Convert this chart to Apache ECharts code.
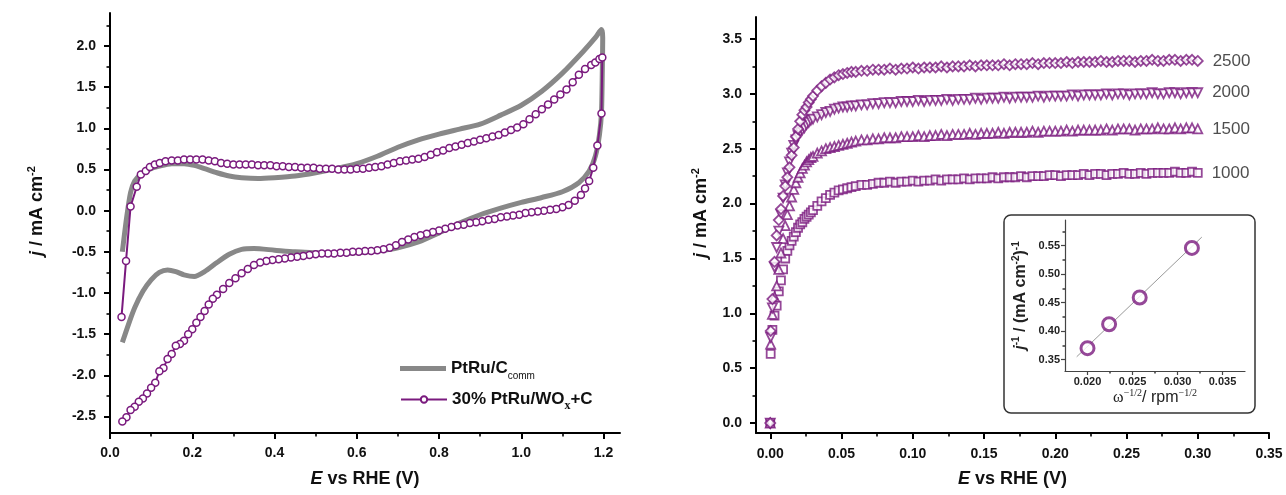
<!DOCTYPE html>
<html><head><meta charset="utf-8">
<script src="https://cdn.jsdelivr.net/npm/echarts@6/dist/echarts.min.js"></script>
<style>html,body{margin:0;padding:0;background:#fff}#c{width:1286px;height:495px}</style>
</head><body><div id="c"></div>
<script>
// ---------- Left panel: cyclic voltammograms ----------
const commName = 'PtRu/C_comm';
const woxName = '30% PtRu/WOx+C';
const cvCommE = [0.030,0.040,0.050,0.060,0.075,0.095,0.120,0.150,0.180,0.205,0.230,0.260,0.290,0.320,0.360,0.400,0.450,0.500,0.550,0.600,0.650,0.700,0.750,0.800,0.850,0.900,0.950,1.000,1.050,1.100,1.150,1.180,1.195,
  1.198,1.197,1.195,1.190,1.180,1.165,1.140,1.100,1.050,1.000,0.950,0.900,0.850,0.800,0.750,0.700,0.650,0.600,0.550,0.500,0.450,0.400,0.350,0.320,0.290,0.260,0.230,0.205,0.180,0.160,0.140,0.120,0.100,0.080,0.060,0.045,0.030];
const cvCommJ = [-0.50,-0.10,0.22,0.36,0.44,0.50,0.54,0.57,0.57,0.55,0.51,0.46,0.42,0.40,0.39,0.40,0.42,0.46,0.51,0.57,0.66,0.77,0.86,0.93,0.99,1.05,1.16,1.28,1.45,1.67,1.93,2.10,2.20,
  2.10,1.70,1.20,0.92,0.66,0.48,0.34,0.23,0.16,0.10,0.03,-0.05,-0.15,-0.27,-0.38,-0.45,-0.49,-0.51,-0.52,-0.51,-0.50,-0.48,-0.46,-0.47,-0.53,-0.63,-0.74,-0.80,-0.78,-0.74,-0.72,-0.75,-0.84,-0.98,-1.18,-1.38,-1.60];
const cvWoxE = [0.028,0.039,0.050,0.065,0.075,0.087,0.097,0.109,0.121,0.135,0.150,0.165,0.180,0.195,0.210,0.225,0.240,0.255,0.270,0.285,0.300,0.315,0.330,0.345,0.360,0.375,0.390,0.405,0.420,0.435,0.450,0.465,0.480,0.495,0.510,0.525,0.540,0.555,0.570,0.585,0.600,0.615,0.630,0.645,0.660,0.675,0.690,0.705,0.720,0.735,0.750,0.765,0.780,0.795,0.810,0.825,0.840,0.855,0.870,0.885,0.900,0.915,0.930,0.945,0.960,0.975,0.990,1.005,1.020,1.035,1.050,1.065,1.080,1.095,1.110,1.125,1.140,1.155,1.170,1.180,1.190,1.197,
  1.195,1.185,1.175,1.165,1.155,1.145,1.130,1.115,1.100,1.085,1.070,1.055,1.040,1.025,1.010,0.995,0.980,0.965,0.950,0.935,0.920,0.905,0.890,0.875,0.860,0.845,0.830,0.815,0.800,0.785,0.770,0.755,0.740,0.725,0.710,0.695,0.680,0.665,0.650,0.635,0.620,0.605,0.590,0.575,0.560,0.545,0.530,0.515,0.500,0.485,0.470,0.455,0.440,0.425,0.410,0.395,0.380,0.365,0.350,0.335,0.320,0.305,0.290,0.275,0.260,0.250,0.240,0.230,0.220,0.210,0.200,0.190,0.180,0.170,0.160,0.150,0.140,0.130,0.120,0.110,0.100,0.090,0.080,0.070,0.060,0.050,0.040,0.030];
const cvWoxJ = [-1.29,-0.61,0.05,0.29,0.44,0.48,0.53,0.56,0.58,0.60,0.61,0.61,0.62,0.62,0.62,0.62,0.61,0.60,0.58,0.57,0.56,0.56,0.56,0.56,0.55,0.55,0.55,0.54,0.54,0.53,0.53,0.52,0.52,0.52,0.51,0.51,0.51,0.50,0.50,0.50,0.51,0.51,0.52,0.53,0.54,0.56,0.58,0.60,0.61,0.62,0.63,0.65,0.68,0.71,0.73,0.76,0.78,0.80,0.82,0.84,0.86,0.88,0.90,0.92,0.95,0.98,1.01,1.05,1.11,1.17,1.23,1.29,1.35,1.41,1.47,1.56,1.65,1.72,1.77,1.80,1.84,1.86,
  1.18,0.79,0.52,0.36,0.27,0.19,0.12,0.07,0.04,0.02,0.01,0.00,-0.01,-0.02,-0.03,-0.05,-0.06,-0.07,-0.08,-0.10,-0.11,-0.13,-0.14,-0.15,-0.17,-0.18,-0.20,-0.22,-0.24,-0.26,-0.28,-0.30,-0.32,-0.35,-0.38,-0.42,-0.45,-0.47,-0.48,-0.49,-0.49,-0.50,-0.50,-0.51,-0.51,-0.52,-0.52,-0.52,-0.53,-0.54,-0.55,-0.56,-0.57,-0.58,-0.59,-0.60,-0.61,-0.63,-0.66,-0.71,-0.76,-0.82,-0.88,-0.95,-1.02,-1.07,-1.14,-1.22,-1.29,-1.36,-1.44,-1.50,-1.58,-1.62,-1.64,-1.74,-1.80,-1.91,-1.95,-2.09,-2.15,-2.22,-2.28,-2.32,-2.38,-2.42,-2.51,-2.56];

// ---------- Right panel: RDE polarization curves ----------
const lsvE = [0,0.0003,0.0015,0.003,0.0045,0.006,0.0075,0.009,0.0105,0.012,0.0135,0.015,0.0165,0.018,0.0195,0.021,0.0225,0.024,0.0255,0.027,0.0285,0.030,
  0.033,0.036,0.039,0.042,0.045,0.048,0.051,0.054,0.057,0.060,
  0.064,0.068,0.072,0.076,0.080,0.084,0.088,0.092,0.096,0.100,
  0.104,0.108,0.112,0.116,0.120,0.124,0.128,0.132,0.136,0.140,
  0.144,0.148,0.152,0.156,0.160,0.164,0.168,0.172,0.176,0.180,
  0.184,0.188,0.192,0.196,0.200,0.204,0.208,0.212,0.216,0.220,
  0.224,0.228,0.232,0.236,0.240,0.244,0.248,0.252,0.256,0.260,
  0.264,0.268,0.272,0.276,0.280,0.284,0.288,0.292,0.296,0.300];
const j1000 = [0,0.63,0.85,0.98,1.07,1.20,1.30,1.40,1.50,1.57,1.62,1.66,1.70,1.74,1.78,1.81,1.83,1.86,1.88,1.90,1.92,1.94,
  1.98,2.02,2.05,2.08,2.10,2.12,2.13,2.14,2.15,2.16,
  2.17,2.17,2.18,2.19,2.19,2.20,2.19,2.20,2.20,2.21,
  2.20,2.21,2.21,2.22,2.21,2.22,2.22,2.22,2.23,2.22,
  2.23,2.23,2.23,2.24,2.23,2.24,2.24,2.24,2.25,2.24,
  2.25,2.25,2.25,2.26,2.26,2.25,2.26,2.26,2.26,2.27,
  2.26,2.27,2.27,2.26,2.27,2.27,2.28,2.27,2.27,2.28,
  2.27,2.28,2.28,2.28,2.28,2.29,2.28,2.28,2.29,2.28];
const j1500 = [0,0.72,0.99,1.15,1.25,1.40,1.55,1.68,1.80,1.90,1.98,2.06,2.13,2.19,2.24,2.28,2.32,2.35,2.38,2.40,2.42,2.43,
  2.46,2.48,2.50,2.51,2.52,2.53,2.54,2.55,2.56,2.57,
  2.58,2.58,2.59,2.59,2.60,2.60,2.60,2.61,2.61,2.61,
  2.62,2.61,2.62,2.62,2.63,2.62,2.63,2.63,2.63,2.64,
  2.63,2.64,2.64,2.64,2.65,2.64,2.65,2.65,2.65,2.65,
  2.66,2.65,2.66,2.66,2.66,2.66,2.67,2.66,2.67,2.67,
  2.67,2.67,2.67,2.68,2.67,2.68,2.68,2.68,2.67,2.68,
  2.68,2.68,2.69,2.68,2.68,2.69,2.68,2.69,2.69,2.68];
const j2000 = [0,0.78,1.05,1.42,1.60,1.75,1.90,2.05,2.17,2.28,2.38,2.46,2.53,2.58,2.62,2.65,2.67,2.69,2.72,2.74,2.76,2.77,
  2.79,2.81,2.83,2.84,2.86,2.87,2.88,2.88,2.89,2.89,
  2.90,2.90,2.91,2.91,2.92,2.92,2.92,2.93,2.93,2.93,
  2.94,2.93,2.94,2.94,2.94,2.95,2.94,2.95,2.95,2.95,
  2.96,2.95,2.96,2.96,2.96,2.97,2.96,2.97,2.97,2.97,
  2.97,2.98,2.97,2.98,2.98,2.98,2.98,2.99,2.98,2.99,
  2.99,2.99,2.99,3.00,2.99,3.00,3.00,2.99,3.00,3.00,
  3.00,3.01,3.00,3.00,3.01,3.01,3.00,3.01,3.01,3.01];
const j2500 = [0,0.84,1.13,1.47,1.71,1.85,1.95,2.07,2.16,2.24,2.33,2.44,2.51,2.61,2.68,2.75,2.81,2.85,2.88,2.92,2.95,2.98,
  3.03,3.07,3.10,3.13,3.15,3.17,3.18,3.19,3.20,3.20,
  3.21,3.21,3.22,3.22,3.22,3.23,3.22,3.23,3.23,3.24,
  3.23,3.24,3.24,3.24,3.25,3.24,3.25,3.25,3.25,3.26,
  3.25,3.26,3.26,3.26,3.26,3.27,3.26,3.27,3.27,3.27,
  3.28,3.27,3.28,3.28,3.28,3.28,3.29,3.28,3.29,3.29,
  3.29,3.29,3.30,3.29,3.29,3.30,3.30,3.30,3.29,3.30,
  3.30,3.31,3.30,3.30,3.31,3.31,3.30,3.31,3.31,3.30];
const rpmLabels = ['1000','1500','2000','2500'];

// ---------- Inset: Koutecky-Levich ----------
const klX = [0.0200,0.0224,0.0258,0.0316];
const klY = [0.370,0.412,0.459,0.546];
const fitX = [0.0188,0.0327];
const fitY = [0.355,0.565];

// ---------- Tick values ----------
const leftXTicks = [0,0.2,0.4,0.6,0.8,1.0,1.2];
const leftXMinor = [0.1,0.3,0.5,0.7,0.9,1.1];
const leftYTicks = [-2.5,-2.0,-1.5,-1.0,-0.5,0,0.5,1.0,1.5,2.0];
const leftYMinor = [-2.25,-1.75,-1.25,-0.75,-0.25,0.25,0.75,1.25,1.75,2.25];
const rightXTicks = [0,0.05,0.10,0.15,0.20,0.25,0.30,0.35];
const rightXMinor = [0.025,0.075,0.125,0.175,0.225,0.275,0.325];
const rightYTicks = [0,0.5,1.0,1.5,2.0,2.5,3.0,3.5];
const rightYMinor = [0.25,0.75,1.25,1.75,2.25,2.75,3.25];
const insetXTicks = [0.020,0.025,0.030,0.035];
const insetXMinor = [0.0225,0.0275,0.0325];
const insetYTicks = [0.35,0.40,0.45,0.50,0.55];
const insetYMinor = [0.375,0.425,0.475,0.525,0.575];

const P = '#7a1a7e';
const G = '#888888';
const FF = '"Liberation Sans", Arial, sans-serif';
const zip = (a, b) => a.map((v, i) => [v, b[i]]);

function mainAxis(opts) {
  return Object.assign({
    type: 'value', splitLine: {show: false},
    axisLine: {show: true, onZero: false, lineStyle: {color: '#000', width: 2}},
    axisTick: {show: true, customValues: opts.ticks, length: 6, lineStyle: {color: '#000', width: 2}},
    axisLabel: {customValues: opts.ticks, formatter: v => v.toFixed(opts.dec), fontSize: 14, fontWeight: 'bold', color: '#111', fontFamily: FF, margin: opts.margin || 12},
  }, opts.extra);
}
function minorAxis(gridIndex, position, min, max, ticks, len, color) {
  return {type: 'value', gridIndex, position, min, max, splitLine: {show: false},
    axisLine: {show: false, onZero: false}, axisLabel: {show: false},
    axisTick: {show: true, customValues: ticks, length: len, lineStyle: {color: color || '#000', width: 1.6}}};
}

const supRich = {
  i: {fontStyle: 'italic', fontWeight: 'bold', fontSize: 18, fontFamily: FF},
  sup: {fontSize: 11, fontWeight: 'bold', fontFamily: FF, verticalAlign: 'top', lineHeight: 22},
};

const lsvSets = [
  {name: rpmLabels[0], data: j1000, symbol: 'rect', size: 8, rot: 0},
  {name: rpmLabels[1], data: j1500, symbol: 'triangle', size: 9, rot: 0},
  {name: rpmLabels[2], data: j2000, symbol: 'triangle', size: 9, rot: 180},
  {name: rpmLabels[3], data: j2500, symbol: 'diamond', size: 10, rot: 0},
];

const lsvSeries = lsvSets.map(s => ({
  type: 'scatter', name: s.name, xAxisIndex: 2, yAxisIndex: 2,
  symbol: s.symbol, symbolSize: s.size, symbolRotate: s.rot,
  itemStyle: {color: '#fff', borderColor: P, borderWidth: 1.8},
  data: lsvE.map((e, i) => i === lsvE.length - 1
    ? {value: [e, s.data[i]], label: {show: true, position: 'right', distance: 9, formatter: s.name, fontSize: 17, color: '#222', fontFamily: FF}}
    : [e, s.data[i]]),
  z: 3,
}));

const legendText = {fontSize: 17, fontWeight: 'bold', color: '#111', fontFamily: FF,
  rich: {sub: {fontSize: 10, fontWeight: 'normal', verticalAlign: 'bottom', lineHeight: 26, fontFamily: FF},
         subx: {fontSize: 12, fontWeight: 'bold', verticalAlign: 'bottom', lineHeight: 24, fontFamily: '"Liberation Serif", serif'}}};

const chart = echarts.init(document.getElementById('c'), null, {renderer: 'canvas'});
chart.setOption({
  animation: false,
  backgroundColor: '#fff',
  grid: [
    {left: 110, top: 13, width: 510, height: 420},
    {left: 756, top: 17, width: 513, height: 416},
    {left: 1065, top: 220, width: 180, height: 151},
  ],
  xAxis: [
    mainAxis({ticks: leftXTicks, dec: 1, margin: 13, extra: {gridIndex: 0, position: 'bottom', min: 0, max: 1.24,
      name: '{i|E} vs RHE (V)', nameLocation: 'middle', nameGap: 37,
      nameTextStyle: {fontSize: 18, fontWeight: 'bold', color: '#111', fontFamily: FF, rich: supRich}}}),
    minorAxis(0, 'bottom', 0, 1.24, leftXMinor, 3.5),
    mainAxis({ticks: rightXTicks, dec: 2, margin: 14, extra: {gridIndex: 1, position: 'bottom', min: -0.01, max: 0.35,
      name: '{i|E} vs RHE (V)', nameLocation: 'middle', nameGap: 37,
      nameTextStyle: {fontSize: 18, fontWeight: 'bold', color: '#111', fontFamily: FF, rich: supRich}}}),
    minorAxis(1, 'bottom', -0.01, 0.35, rightXMinor, 3.5),
    {type: 'value', gridIndex: 2, position: 'bottom', min: 0.0175, max: 0.0375, splitLine: {show: false},
      axisLine: {show: true, onZero: false, lineStyle: {color: '#444', width: 1.2}},
      axisTick: {show: true, customValues: insetXTicks, length: 4, lineStyle: {color: '#444', width: 1.2}},
      axisLabel: {customValues: insetXTicks, formatter: v => v.toFixed(3), fontSize: 11, fontWeight: 'bold', color: '#222', fontFamily: FF, margin: 5},
      name: '{w|ω}{s|−1/2}/ rpm{s|−1/2}', nameLocation: 'middle', nameGap: 13,
      nameTextStyle: {fontSize: 16, color: '#222', fontFamily: FF,
        rich: {w: {fontFamily: '"Liberation Serif", serif', fontSize: 16, color: '#222'},
               s: {fontFamily: '"Liberation Serif", serif', fontSize: 10, color: '#222', verticalAlign: 'top', lineHeight: 20}}}},
    minorAxis(2, 'bottom', 0.0175, 0.0375, insetXMinor, 2.5, '#444'),
  ],
  yAxis: [
    mainAxis({ticks: leftYTicks, dec: 1, margin: 14, extra: {gridIndex: 0, position: 'left', min: -2.7, max: 2.4,
      name: '{i|j} / mA cm{sup|-2}', nameLocation: 'middle', nameRotate: 90, nameGap: 62,
      nameTextStyle: {fontSize: 18, fontWeight: 'bold', color: '#111', fontFamily: FF, rich: supRich, padding: [0, 0, 0, 24]}}}),
    minorAxis(0, 'left', -2.7, 2.4, leftYMinor, 3.5),
    mainAxis({ticks: rightYTicks, dec: 1, margin: 14, extra: {gridIndex: 1, position: 'left', min: -0.09, max: 3.7,
      name: '{i|j} / mA cm{sup|-2}', nameLocation: 'middle', nameRotate: 90, nameGap: 44,
      nameTextStyle: {fontSize: 18, fontWeight: 'bold', color: '#111', fontFamily: FF, rich: supRich, padding: [0, 0, 0, 24]}}}),
    minorAxis(1, 'left', -0.09, 3.7, rightYMinor, 3.5),
    {type: 'value', gridIndex: 2, position: 'left', min: 0.33, max: 0.595, splitLine: {show: false},
      axisLine: {show: true, onZero: false, lineStyle: {color: '#444', width: 1.2}},
      axisTick: {show: true, customValues: insetYTicks, length: 4, lineStyle: {color: '#444', width: 1.2}},
      axisLabel: {customValues: insetYTicks, formatter: v => v.toFixed(2), fontSize: 11, fontWeight: 'bold', color: '#222', fontFamily: FF, margin: 5},
      name: '{i|j}{s|-1} / (mA cm{s|-2}){s|-1}', nameLocation: 'middle', nameRotate: 90, nameGap: 34,
      nameTextStyle: {fontSize: 16, fontWeight: 'bold', color: '#222', fontFamily: FF,
        rich: {i: {fontStyle: 'italic', fontWeight: 'bold', fontSize: 16, fontFamily: FF},
               s: {fontSize: 10, fontWeight: 'bold', fontFamily: FF, verticalAlign: 'top', lineHeight: 20}}}},
    minorAxis(2, 'left', 0.33, 0.595, insetYMinor, 2.5, '#444'),
  ],
  legend: [
    {data: [{name: commName, icon: 'rect'}], left: 395, top: 355, itemWidth: 46, itemHeight: 5,
      textStyle: legendText, formatter: () => 'PtRu/C{sub|comm}'},
    {data: [woxName], left: 395, top: 386, itemWidth: 46, itemHeight: 8,
      textStyle: legendText, formatter: () => '30% PtRu/WO{subx|x}+C'},
  ],
  graphic: [{type: 'rect', shape: {x: 1004, y: 215, width: 251, height: 198, r: 7},
    style: {fill: 'none', stroke: '#333', lineWidth: 1.5}, z: 10, silent: true}],
  series: [
    {type: 'line', name: commName, xAxisIndex: 0, yAxisIndex: 0, data: zip(cvCommE, cvCommJ),
      symbol: 'none', showSymbol: false, smooth: 0.25, lineStyle: {color: G, width: 5}, itemStyle: {color: G}, z: 2},
    {type: 'line', name: woxName, xAxisIndex: 0, yAxisIndex: 0, data: zip(cvWoxE, cvWoxJ),
      symbol: 'circle', symbolSize: 7, showSymbol: true, lineStyle: {color: P, width: 2},
      itemStyle: {color: '#fff', borderColor: P, borderWidth: 1.5}, z: 3},
    ...lsvSeries,
    {type: 'line', xAxisIndex: 4, yAxisIndex: 4, data: zip(fitX, fitY), symbol: 'none',
      lineStyle: {color: '#999', width: 1}, z: 4},
    {type: 'scatter', xAxisIndex: 4, yAxisIndex: 4, data: zip(klX, klY), symbol: 'circle', symbolSize: 13,
      itemStyle: {color: '#fff', borderColor: P, borderWidth: 3}, z: 5},
  ],
});
</script></body></html>
